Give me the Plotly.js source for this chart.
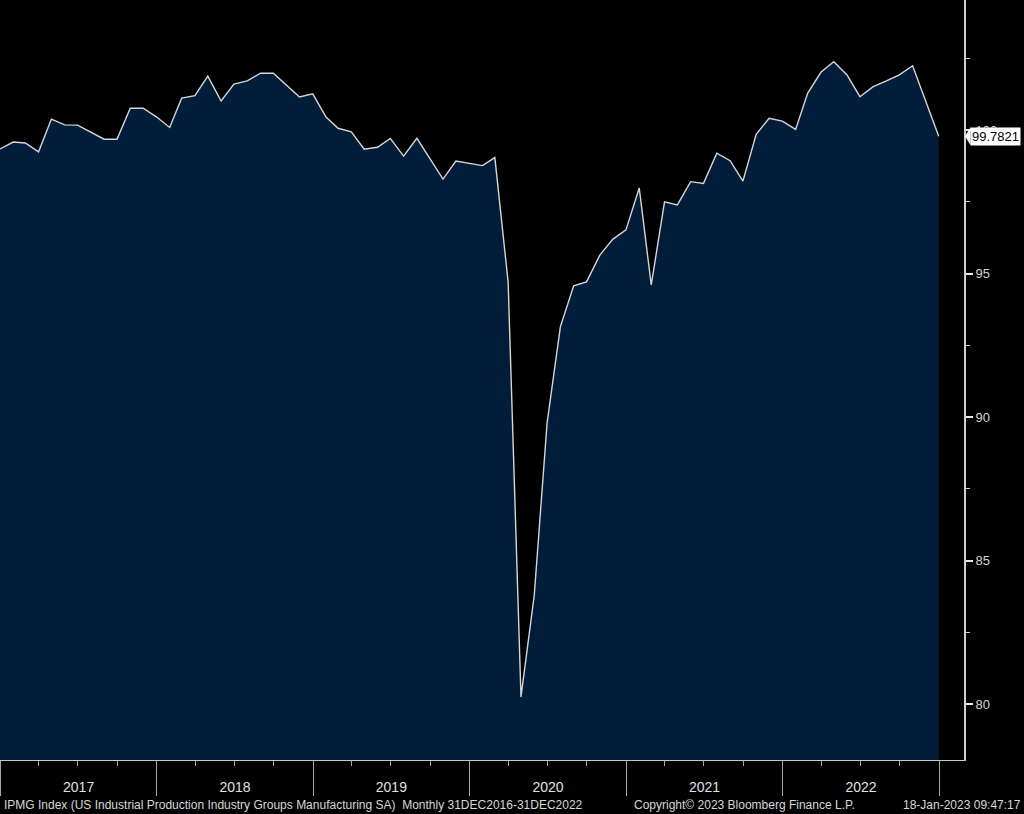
<!DOCTYPE html>
<html>
<head>
<meta charset="utf-8">
<script src="https://cdn.plot.ly/plotly-3.0.1.min.js"></script>
<style>html,body{margin:0;padding:0;background:#000;}#chart{width:1024px;height:814px;}</style>
</head>
<body>
<div id="chart"></div>
<script>
// Month-end observation dates (monthly, 31DEC2016 - 31DEC2022)
var dates = [
  '2016-12-31',
  '2017-01-31','2017-02-28','2017-03-31','2017-04-30','2017-05-31','2017-06-30',
  '2017-07-31','2017-08-31','2017-09-30','2017-10-31','2017-11-30','2017-12-31',
  '2018-01-31','2018-02-28','2018-03-31','2018-04-30','2018-05-31','2018-06-30',
  '2018-07-31','2018-08-31','2018-09-30','2018-10-31','2018-11-30','2018-12-31',
  '2019-01-31','2019-02-28','2019-03-31','2019-04-30','2019-05-31','2019-06-30',
  '2019-07-31','2019-08-31','2019-09-30','2019-10-31','2019-11-30','2019-12-31',
  '2020-01-31','2020-02-29','2020-03-31','2020-04-30','2020-05-31','2020-06-30',
  '2020-07-31','2020-08-31','2020-09-30','2020-10-31','2020-11-30','2020-12-31',
  '2021-01-31','2021-02-28','2021-03-31','2021-04-30','2021-05-31','2021-06-30',
  '2021-07-31','2021-08-31','2021-09-30','2021-10-31','2021-11-30','2021-12-31',
  '2022-01-31','2022-02-28','2022-03-31','2022-04-30','2022-05-31','2022-06-30',
  '2022-07-31','2022-08-31','2022-09-30','2022-10-31','2022-11-30','2022-12-31'
];

// IPMG Index values
var ipmg = [
  99.34,
  99.58, 99.55, 99.24, 100.38, 100.18, 100.17,
  99.91, 99.68, 99.68, 100.76, 100.76, 100.46,
  100.09, 101.11, 101.20, 101.88, 101.01, 101.60,
  101.71, 101.98, 101.98, 101.57, 101.15, 101.26,
  100.45, 100.06, 99.94, 99.33, 99.40, 99.71,
  99.09, 99.71, 99.01, 98.29, 98.92, 98.84,
  98.76, 99.04, 94.70, 80.25, 83.80, 89.80,
  93.15, 94.57, 94.71, 95.64, 96.19, 96.52,
  97.98, 94.60, 97.50, 97.39, 98.20, 98.14,
  99.19, 98.93, 98.22, 99.85, 100.41, 100.31,
  100.02, 101.28, 102.01, 102.38, 101.92, 101.16,
  101.51, 101.71, 101.92, 102.24, 101.05, 99.7821
];

var lastValueLabel = '99.7821';
var footerLeft = 'IPMG Index (US Industrial Production Industry Groups Manufacturing SA)  Monthly 31DEC2016-31DEC2022';
var footerMid = 'Copyright\u00A9 2023 Bloomberg Finance L.P.';
var footerRight = '18-Jan-2023 09:47:17';

var lastVal = ipmg[ipmg.length - 1];

var trace = {
  type: 'scatter',
  mode: 'lines',
  x: dates,
  y: ipmg,
  fill: 'tozeroy',
  fillcolor: '#021d3a',
  line: {color: '#d6d6d6', width: 1.4},
  hoverinfo: 'skip',
  showlegend: false
};

var layout = {
  width: 1024,
  height: 814,
  margin: {l: 0, r: 60, t: 0, b: 54, pad: 0},
  paper_bgcolor: '#000000',
  plot_bgcolor: '#000000',
  font: {family: 'Liberation Sans, Arial, sans-serif', color: '#d8d8d8'},
  showlegend: false,
  xaxis: {
    type: 'date',
    range: ['2016-12-31', '2023-02-28'],
    showgrid: false,
    zeroline: false,
    showline: true,
    linecolor: '#c8c8c8',
    linewidth: 1,
    tick0: '2017-01-01',
    dtick: 'M12',
    tickformat: '%Y',
    ticklabelmode: 'period',
    ticks: 'outside',
    ticklen: 35,
    tickwidth: 1,
    tickcolor: '#a8a8a8',
    ticklabelstandoff: -21,
    tickfont: {family: 'Liberation Sans, Arial, sans-serif', size: 14, color: '#e0e0e0'},
    minor: {tick0: '2017-01-01', dtick: 'M3', ticks: 'outside', ticklen: 5, tickwidth: 1, tickcolor: '#a8a8a8', showgrid: false},
    fixedrange: true
  },
  yaxis: {
    side: 'right',
    range: [78.05, 104.53],
    showgrid: false,
    zeroline: false,
    showline: true,
    linecolor: '#cfcfcf',
    linewidth: 2,
    tick0: 80,
    dtick: 5,
    ticks: 'outside',
    ticklen: 7,
    tickwidth: 2,
    tickcolor: '#e8e8e8',
    tickfont: {family: 'Liberation Sans, Arial, sans-serif', size: 13, color: '#d4d4d4'},
    minor: {tick0: 77.5, dtick: 2.5, ticks: 'outside', ticklen: 4, tickwidth: 1, tickcolor: '#cfcfcf', showgrid: false},
    fixedrange: true
  },
  shapes: [
    {
      type: 'path',
      xref: 'paper', yref: 'y',
      path: 'M 1.001 ' + lastVal + ' L 1.0068 ' + (lastVal + 0.31) + ' L 1.0068 ' + (lastVal - 0.31) + ' Z',
      fillcolor: '#ffffff',
      line: {width: 0}
    }
  ],
  annotations: [
    {
      xref: 'paper', yref: 'y',
      x: 1.0066, y: lastVal,
      xanchor: 'left', yanchor: 'middle',
      text: lastValueLabel,
      showarrow: false,
      bgcolor: '#ffffff',
      borderpad: 1,
      font: {family: 'Liberation Sans, Arial, sans-serif', size: 13, color: '#000000'}
    },
    {
      xref: 'paper', yref: 'paper',
      x: 0.002, y: -0.0592,
      xanchor: 'left', yanchor: 'middle',
      text: footerLeft,
      showarrow: false,
      font: {family: 'Liberation Sans, Arial, sans-serif', size: 12, color: '#d8d8d8'}
    },
    {
      xref: 'paper', yref: 'paper',
      x: 0.6556, y: -0.0592,
      xanchor: 'left', yanchor: 'middle',
      text: footerMid,
      showarrow: false,
      font: {family: 'Liberation Sans, Arial, sans-serif', size: 12, color: '#d8d8d8'}
    },
    {
      xref: 'paper', yref: 'paper',
      x: 1.061, y: -0.0592,
      xanchor: 'right', yanchor: 'middle',
      text: footerRight,
      showarrow: false,
      font: {family: 'Liberation Sans, Arial, sans-serif', size: 12, color: '#d8d8d8'}
    }
  ]
};

Plotly.newPlot('chart', [trace], layout, {staticPlot: true, displayModeBar: false});
</script>
</body>
</html>
